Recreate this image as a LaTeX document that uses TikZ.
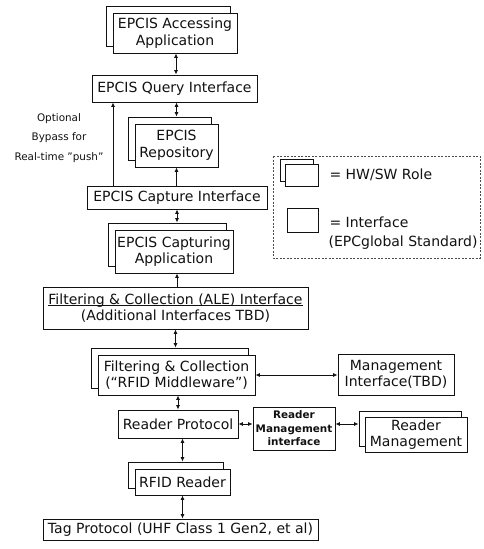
\documentclass[tikz,border=0pt]{standalone}
\usepackage{fontspec}
\setmainfont{DejaVu Sans}
\usepackage{tikz}
\usetikzlibrary{arrows.meta,shadows}
\definecolor{ink}{HTML}{111111}

\begin{document}
\begin{tikzpicture}[x=1pt,y=-1pt,
  font=\fontsize{14}{16.5}\selectfont,
  box/.style={draw=ink,line width=0.9pt,fill=white,align=center,inner sep=2pt,text=ink},
  iface/.style={box},
  role/.style={box,copy shadow={shadow xshift=-#1,shadow yshift=#1,
    draw=ink,fill=white,line width=0.9pt}},
  role/.default=7pt,
  small/.style={font=\bfseries\fontsize{10.4}{13.5}\selectfont,text=ink},
  link/.style={draw=ink,line width=0.8pt,
    {Latex[length=4.5pt,width=4pt]}-{Latex[length=4.5pt,width=4pt]}},
  oneway/.style={draw=ink,line width=0.8pt,-{Latex[length=4.5pt,width=4pt]}}]
  \useasboundingbox (0,0) rectangle (484,549);

  % legend
  \draw[ink!75,line width=0.6pt,dash pattern=on 2pt off 1.5pt]
    (273,156) rectangle (480,258);
  \node[role=5pt,minimum width=33pt,minimum height=22pt] (legrole) at (301.5,175) {};
  \node[anchor=west,text=ink] (legroletxt) at (326,175) {= HW/SW Role};
  \node[iface,minimum width=31pt,minimum height=24pt] (legif) at (302.5,220) {};
  \node[anchor=west,text=ink] (legiftxt) at (326,222) {= Interface};
  \node[anchor=east,text=ink] (legstd) at (481,243) {(EPCglobal Standard)};

  % EPCIS layer
  \node[role,minimum width=124pt,minimum height=40pt] (acc) at (175,33)
    {EPCIS Accessing\\Application};
  \node[iface,minimum width=165pt,minimum height=27pt] (qry) at (174.5,88.5)
    {EPCIS Query Interface};
  \node[role,minimum width=83pt,minimum height=43pt] (rep) at (176.5,145.5)
    {EPCIS\\Repository};
  \node[iface,minimum width=180pt,minimum height=23pt] (cap) at (177,197.5)
    {EPCIS Capture Interface};
  \node[role,minimum width=118pt,minimum height=43pt] (capapp) at (174,251.5)
    {EPCIS Capturing\\Application};
  \node[small,align=center,font=\fontsize{10.4}{19.5}\selectfont] (bypass) at (59,138)
    {Optional\\Bypass for\\Real-time "push"};
  \coordinate (byp) at (113,0);

  % filtering & collection
  \node[iface,minimum width=265pt,minimum height=42pt] (ale) at (175.5,308)
    {\underline{\smash{Filtering \& Collection (ALE) Interface}}\vphantom{(g}\\
     (Additional Interfaces TBD)};
  \node[role,minimum width=157pt,minimum height=40pt] (fc) at (176.5,375)
    {Filtering \& Collection\\(``RFID Middleware'')};
  \node[iface,minimum width=116pt,minimum height=41pt] (mgi) at (396,374.5)
    {Management\\Interface(TBD)};

  % reader layer
  \node[iface,minimum width=120pt,minimum height=28pt] (rp) at (178,424)
    {Reader Protocol};
  \node[iface,small,minimum width=82pt,minimum height=43pt] (rmi) at (294,428.5)
    {Reader\\Management\\interface};
  \node[role=6pt,minimum width=102pt,minimum height=35pt] (rm) at (416,434.5)
    {Reader\\Management};
  \node[role,minimum width=95pt,minimum height=26pt] (rr) at (182.5,482)
    {RFID Reader};
  \node[iface,minimum width=275pt,minimum height=21pt] (tag) at (180.5,529.5)
    {Tag Protocol (UHF Class 1 Gen2, et al)};

  % back-box edges of the role boxes
  \coordinate (reptop) at ([yshift=7pt]rep.north);
  \coordinate (captop) at ([yshift=7pt]capapp.north);
  \coordinate (fctop) at ([yshift=7pt]fc.north);
  \coordinate (rrtop) at ([yshift=7pt]rr.north);
  \coordinate (rmleft) at ([xshift=-6pt]rm.west);

  % connectors
  \draw[link] ([xshift=1pt]acc.south) -- ([xshift=1pt]acc.south |- qry.north);
  \draw[link] (reptop |- qry.south) -- (reptop);
  \draw[oneway] (cap.north -| rep) -- (rep.south);
  \draw[oneway] (byp |- cap.north) -- (byp |- qry.south);
  \draw[link] (cap.south) -- (cap.south |- captop);
  \draw[oneway] (ale.north -| cap.south) -- (capapp.south -| cap.south);
  \draw[link] (ale.south) -- (ale.south |- fctop);
  \draw[link] (fc.east) -- (fc.east -| mgi.west);
  \draw[link] (fc.south -| rp) -- (rp.north);
  \draw[link] (rp.east) -- (rp.east -| rmi.west);
  \draw[link] (rmi.east |- rp.east) -- (rp.east -| rmleft);
  \draw[link] (rp.south -| rrtop) -- (rrtop);
  \draw[link] (rr.south) -- (rr.south |- tag.north);
\end{tikzpicture}
\end{document}
